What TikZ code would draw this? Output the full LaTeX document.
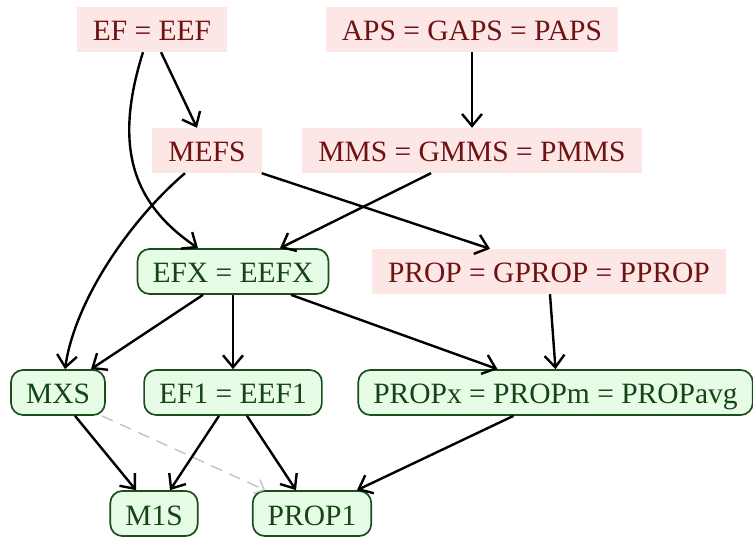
\documentclass[tikz,border=0pt]{standalone}
\usepackage{fontspec}
\setmainfont{Liberation Serif}
\usetikzlibrary{arrows.meta}
\definecolor{rtext}{HTML}{6E1212}
\definecolor{rfill}{HTML}{FDE6E6}
\definecolor{gtext}{HTML}{164416}
\definecolor{gfill}{HTML}{E6FCE6}
\definecolor{gdraw}{HTML}{1C4E1C}
\begin{document}
\begin{tikzpicture}[x=1pt,y=-1pt, font=\fontsize{29.5}{34}\selectfont,
  redbox/.style={fill=rfill, text=rtext, minimum height=45pt, inner xsep=16pt, inner ysep=0pt, text height=23pt, text depth=0pt},
  greenbox/.style={fill=gfill, draw=gdraw, line width=1.7pt, text=gtext, rounded corners=12pt, minimum height=45pt, inner xsep=15pt, inner ysep=0pt, text height=23pt, text depth=0pt},
  arr/.style={-{Straight Barb[length=12pt,width=20pt]}, line width=2.4pt},
  darr/.style={-{Straight Barb[length=8pt,width=15pt]}, line width=1.3pt, draw=black!25, dash pattern=on 12pt off 8pt}
]
\useasboundingbox (0,0) rectangle (753,537);
\node[redbox] (ef) at (152,29.5) {EF = EEF};
\node[redbox] (aps) at (472,29.5) {APS = GAPS = PAPS};
\node[redbox] (mefs) at (207,150.5) {MEFS};
\node[redbox] (mms) at (472,150.5) {MMS = GMMS = PMMS};
\node[greenbox] (efx) at (233,271.5) {EFX = EEFX};
\node[redbox] (prop) at (549,271.5) {PROP = GPROP = PPROP};
\node[greenbox] (mxs) at (58,392.5) {MXS};
\node[greenbox] (ef1) at (233,392.5) {EF1 = EEF1};
\node[greenbox] (propx) at (555.5,392.5) {PROPx = PROPm = PROPavg};
\node[greenbox] (m1s) at (154,513.5) {M1S};
\node[greenbox] (prop1) at (312,513.5) {PROP1};

\draw[arr] ([xshift=9pt]ef.south) -- ([xshift=-10pt]mefs.north);
\draw[arr] ([xshift=-9pt]ef.south) .. controls +(-31,98) and +(-63,-43) .. ([xshift=-35pt]efx.north);
\draw[arr] (aps.south) -- (mms.north);
\draw[arr] ([xshift=-22pt]mefs.south) .. controls +(-55,47) and +(10,-69) .. ([xshift=7pt]mxs.north);
\draw[arr] (mefs.south east) -- ([xshift=-59pt]prop.north);
\draw[arr] ([xshift=-41pt]mms.south) -- ([xshift=47pt]efx.north);
\draw[arr] ([xshift=-30pt]efx.south) -- ([xshift=33pt]mxs.north);
\draw[arr] (efx.south) -- (ef1.north);
\draw[arr] ([xshift=58pt]efx.south) -- ([xshift=-58pt]propx.north);
\draw[arr] ([xshift=1pt]prop.south) -- (propx.north);
\draw[arr] ([xshift=17pt]mxs.south) -- ([xshift=-18pt]m1s.north);
\draw[darr] ([xshift=-4pt]mxs.south east) -- ([xshift=-47pt]prop1.north);
\draw[arr] ([xshift=-14pt]ef1.south) -- ([xshift=16pt]m1s.north);
\draw[arr] ([xshift=14pt]ef1.south) -- ([xshift=-16pt]prop1.north);
\draw[arr] ([xshift=-42pt]propx.south) -- ([xshift=45pt]prop1.north);
\end{tikzpicture}
\end{document}
